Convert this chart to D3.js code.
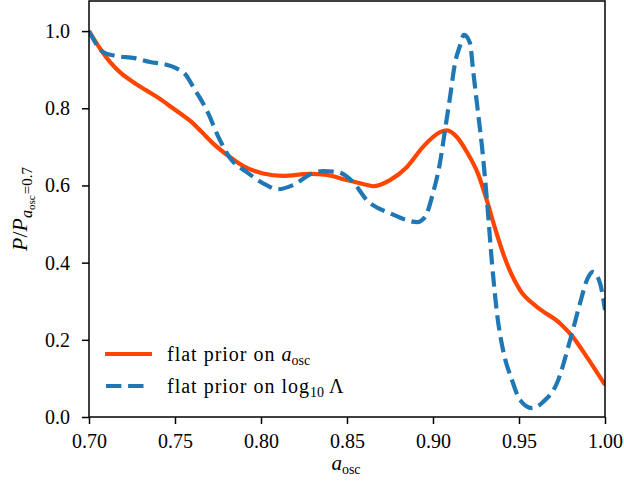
<!DOCTYPE html>
<html>
<head>
<meta charset="utf-8">
<script src="https://cdn.jsdelivr.net/npm/d3@7"></script>
<style>
html,body{margin:0;padding:0;background:#fff;}
svg{display:block;}
</style>
</head>
<body>
<svg id="chart" width="624" height="489" font-family="Liberation Serif"></svg>
<script>
// ---- data ----
const orangeA = [0.700,0.7070,0.7128,0.7186,0.7256,0.7331,0.7407,0.7488,0.7535,0.7587,0.7650,0.7721,0.7837,0.7895,0.8012,0.8128,0.8285,0.8384,0.8500,0.8593,0.8651,0.8750,0.8849,0.8942,0.9041,0.9081,0.9140,0.9198,0.9262,0.9314,0.9360,0.9407,0.9456,0.9506,0.9605,0.9738,0.9814,0.9895,1.000];
const orangeV = [1.000,0.951,0.917,0.891,0.868,0.847,0.826,0.800,0.785,0.768,0.741,0.709,0.668,0.651,0.631,0.625,0.630,0.627,0.614,0.604,0.598,0.614,0.648,0.700,0.738,0.743,0.725,0.686,0.630,0.560,0.490,0.425,0.370,0.329,0.285,0.243,0.207,0.155,0.083];

const blueA = [0.700,0.7081,0.7151,0.7267,0.7355,0.7430,0.7506,0.7564,0.7610,0.7645,0.7692,0.7750,0.7820,0.7919,0.8035,0.8093,0.8186,0.8302,0.8360,0.8442,0.8535,0.8616,0.8651,0.8750,0.8849,0.8907,0.8953,0.9000,0.9041,0.9070,0.9099,0.9128,0.9157,0.9180,0.9215,0.9233,0.9262,0.9285,0.9314,0.9343,0.9372,0.9407,0.9459,0.9506,0.9576,0.9640,0.9721,0.9797,0.9855,0.9895,0.9930,0.9971,1.000];
const blueV = [1.000,0.946,0.936,0.930,0.920,0.915,0.904,0.886,0.852,0.827,0.788,0.728,0.671,0.634,0.600,0.590,0.601,0.632,0.637,0.635,0.609,0.562,0.549,0.528,0.510,0.505,0.518,0.580,0.660,0.744,0.829,0.917,0.962,0.990,0.969,0.899,0.788,0.700,0.560,0.399,0.269,0.174,0.096,0.044,0.023,0.039,0.088,0.199,0.295,0.355,0.376,0.347,0.277];

const xTicks = [0.70,0.75,0.80,0.85,0.90,0.95,1.00];
const yTicks = [0.0,0.2,0.4,0.6,0.8,1.0];
const xDomain = [0.70,1.00];
const yDomain = [0,1.078];

// ---- layout ----
const FONT = "Liberation Serif";
const L=89, R=605, T=1, B=417;
const svg = d3.select("#chart");
const x = d3.scaleLinear().domain(xDomain).range([L,R]);
const y = d3.scaleLinear().domain(yDomain).range([B,T]);

svg.append("defs").append("clipPath").attr("id","clip")
  .append("rect").attr("x",L).attr("y",T).attr("width",R-L).attr("height",B-T);

const orange = d3.zip(orangeA, orangeV);
const blue = d3.zip(blueA, blueV);
const line = d3.line().x(d=>x(d[0])).y(d=>y(d[1])).curve(d3.curveMonotoneX);

const g = svg.append("g").attr("clip-path","url(#clip)");
g.append("path").datum(orange).attr("d",line)
  .attr("fill","none").attr("stroke","#ff4500").attr("stroke-width",4.2)
  .attr("stroke-linejoin","round");
g.append("path").datum(blue).attr("d",line)
  .attr("fill","none").attr("stroke","#1f77b4").attr("stroke-width",4.2)
  .attr("stroke-dasharray","15.4,6.7").attr("stroke-linejoin","round");

// frame
svg.append("rect").attr("x",L).attr("y",T).attr("width",R-L).attr("height",B-T)
  .attr("fill","none").attr("stroke","#000").attr("stroke-width",1.5);

// axes
const xAxis = d3.axisBottom(x).tickValues(xTicks).tickFormat(d3.format(".2f")).tickSize(7).tickPadding(10);
const yAxis = d3.axisLeft(y).tickValues(yTicks).tickFormat(d3.format(".1f")).tickSize(7).tickPadding(12);
const gx = svg.append("g").attr("transform",`translate(0,${B})`).call(xAxis);
const gy = svg.append("g").attr("transform",`translate(${L},0)`).call(yAxis);
[gx,gy].forEach(a=>{
  a.attr("font-family",FONT).attr("font-size",20);
  a.select(".domain").remove();
  a.selectAll(".tick line").attr("stroke","#000").attr("stroke-width",1.5);
  a.selectAll(".tick text").attr("font-family",FONT).attr("font-size",20).attr("fill","#000");
});
gx.selectAll(".tick text").attr("dy","0.72em");

// x label
const xl = svg.append("text").attr("x",346).attr("y",470).attr("text-anchor","middle")
  .attr("font-family",FONT).attr("font-size",21);
xl.append("tspan").attr("font-style","italic").text("a");
xl.append("tspan").attr("font-size",14).attr("dy",4).text("osc");

// y label
const yl = svg.append("text").attr("transform",`translate(27,${(T+B)/2}) rotate(-90)`)
  .attr("text-anchor","middle").attr("font-family",FONT).attr("font-size",22);
yl.append("tspan").attr("font-style","italic").text("P");
yl.append("tspan").text("/");
yl.append("tspan").attr("font-style","italic").text("P");
yl.append("tspan").attr("font-style","italic").attr("font-size",16).attr("dy",5).text("a");
yl.append("tspan").attr("font-size",11).attr("dy",3).text("osc");
yl.append("tspan").attr("font-size",15).attr("dy",-3).attr("dx",1).text("=0.7");

// legend
const leg = svg.append("g").attr("font-family",FONT);
leg.append("line").attr("x1",105).attr("x2",152).attr("y1",354).attr("y2",354)
  .attr("stroke","#ff4500").attr("stroke-width",4.2);
leg.append("line").attr("x1",106).attr("x2",150).attr("y1",386).attr("y2",386)
  .attr("stroke","#1f77b4").attr("stroke-width",4.2).attr("stroke-dasharray","15.4,6.7");
const t1 = leg.append("text").attr("x",167).attr("y",361).attr("font-family",FONT).attr("font-size",20);
t1.append("tspan").attr("letter-spacing",1).text("flat prior on ");
t1.append("tspan").attr("font-style","italic").text("a");
t1.append("tspan").attr("font-size",14).attr("dy",4).text("osc");
const t2 = leg.append("text").attr("x",167).attr("y",393).attr("font-family",FONT).attr("font-size",20);
t2.append("tspan").attr("letter-spacing",1).text("flat prior on log");
t2.append("tspan").attr("font-size",14).attr("dy",4).text("10");
t2.append("tspan").attr("dy",-4).text(" Λ");
</script>
</body>
</html>
